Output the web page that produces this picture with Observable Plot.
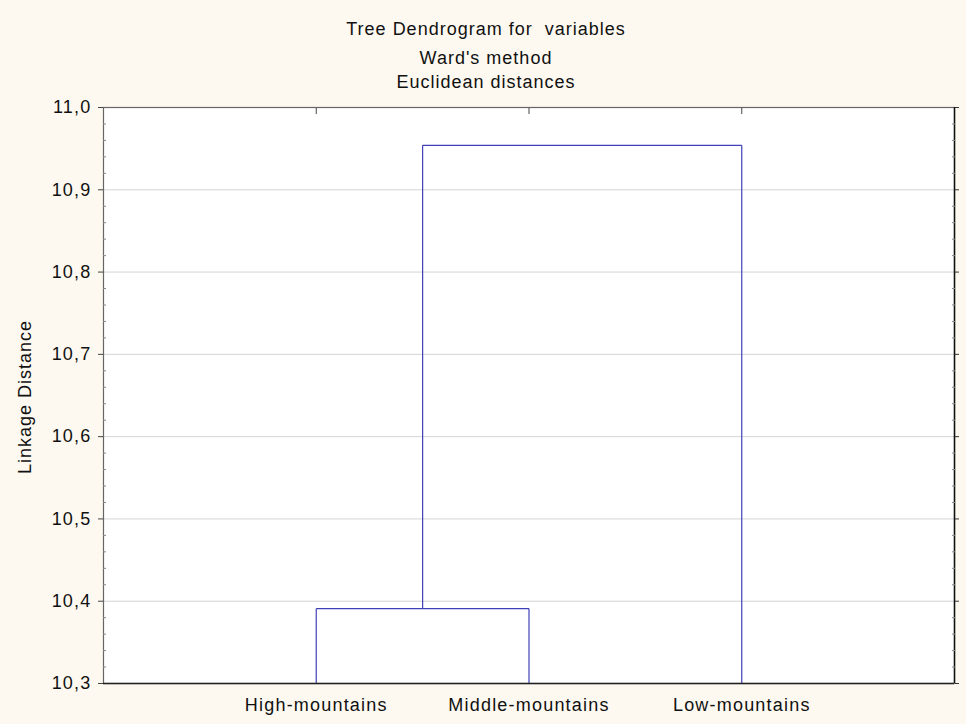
<!DOCTYPE html>
<html>
<head>
<meta charset="utf-8">
<script src="https://cdn.jsdelivr.net/npm/d3@7"></script>
<script src="https://cdn.jsdelivr.net/npm/@observablehq/plot@0.6"></script>
<style>
  html, body { margin: 0; padding: 0; background: #fdf9f0; }
  #wrap { position: relative; width: 966px; height: 724px; background: #fdf9f0; font-family: "Liberation Sans", Arial, sans-serif; }
  #title { position: absolute; left: 0; top: 0; width: 966px; text-align: center; color: #111; font-size: 18px; letter-spacing: 1px; }
  #title div { position: absolute; width: 966px; left: 3px; }
  #ylab { position: absolute; left: 25px; top: 397px; transform: translate(-50%, -50%) rotate(-90deg); font-size: 18px; letter-spacing: 1px; color: #111; white-space: nowrap; }
  svg text { letter-spacing: 1.2px; }
</style>
</head>
<body>
<div id="wrap">
  <div id="title">
    <div style="top:19px">Tree Dendrogram for&nbsp; variables</div>
    <div style="top:48px">Ward's method</div>
    <div style="top:72px">Euclidean distances</div>
  </div>
  <div id="ylab">Linkage Distance</div>
</div>
<script>
// Leaves in dendrogram order
const leaves = ["High-mountains", "Middle-mountains", "Low-mountains"];
// Merges: [left child, right child, linkage distance]; children: leaf index (0..) or "m<k>" for earlier merge
const mergeLeft = [0, "m0"];
const mergeRight = [1, 2];
const mergeHeight = [10.391, 10.954];
// Y axis ticks
const yTicks = [10.3, 10.4, 10.5, 10.6, 10.7, 10.8, 10.9, 11.0];
const yMinor = d3.range(0, 36).map(i => +(10.3 + i * 0.02).toFixed(2)).filter(v => !yTicks.some(t => Math.abs(t - v) < 1e-9));
const yGrid = [10.4, 10.5, 10.6, 10.7, 10.8, 10.9];
const yMin = 10.3, yMax = 11.0;

// Build segments
const nodes = [];
const pos = c => typeof c === "number" ? {x: c + 1, h: yMin} : nodes[+c.slice(1)];
const segs = [];
mergeHeight.forEach((h, k) => {
  const a = pos(mergeLeft[k]), b = pos(mergeRight[k]);
  segs.push({x1: a.x, y1: a.h, x2: a.x, y2: h});
  segs.push({x1: b.x, y1: b.h, x2: b.x, y2: h});
  segs.push({x1: a.x, y1: h, x2: b.x, y2: h});
  nodes.push({x: (a.x + b.x) / 2, h});
});

const fmt = d => d.toFixed(1).replace(".", ",");
const blue = "#4040b8";

const chart = Plot.plot({
  width: 966,
  height: 724,
  marginLeft: 103,
  marginRight: 12,
  marginTop: 107,
  marginBottom: 41,
  style: {background: "transparent", fontFamily: "'Liberation Sans', Arial, sans-serif", color: "#111", overflow: "visible"},
  x: {domain: [0, 4], axis: null},
  y: {domain: [yMin, yMax], axis: null},
  marks: [
    Plot.frame({fill: "white", stroke: "none"}),
    Plot.gridY(yGrid, {stroke: "#d4d4d4", strokeOpacity: 1}),
    Plot.link(segs, {x1: "x1", y1: "y1", x2: "x2", y2: "y2", stroke: blue, strokeWidth: 1.2}),
    Plot.frame({stroke: "#666", strokeWidth: 1.2}),
    Plot.ruleY([yMin], {stroke: "#222", strokeWidth: 1.5}),
    Plot.ruleX([4], {stroke: "#111", strokeWidth: 1.5}),
    Plot.axisY({ticks: yTicks, anchor: "left", tickSize: 5, tickPadding: 7, tickFormat: fmt, fontSize: 18, stroke: "#444"}),
    Plot.axisY({ticks: yMinor, anchor: "left", tickSize: 3, dx: 3, tickFormat: () => "", stroke: "#888"}),
    Plot.axisY({ticks: yTicks, anchor: "right", tickSize: 4, tickFormat: () => "", stroke: "#333"}),
    Plot.axisY({ticks: yMinor, anchor: "right", tickSize: 3, dx: -3, tickFormat: () => "", stroke: "#888"}),
    Plot.axisX({ticks: [1, 2, 3], anchor: "top", tickSize: 6, dy: 6, tickFormat: () => "", stroke: "#444"}),
    Plot.axisX({ticks: [1, 2, 3], anchor: "bottom", tickSize: 0, tickPadding: 15, tickFormat: i => leaves[i - 1], fontSize: 18})
  ]
});
document.getElementById("wrap").prepend(chart);
chart.style.position = "absolute";
chart.style.left = "0";
chart.style.top = "0";
</script>
</body>
</html>
